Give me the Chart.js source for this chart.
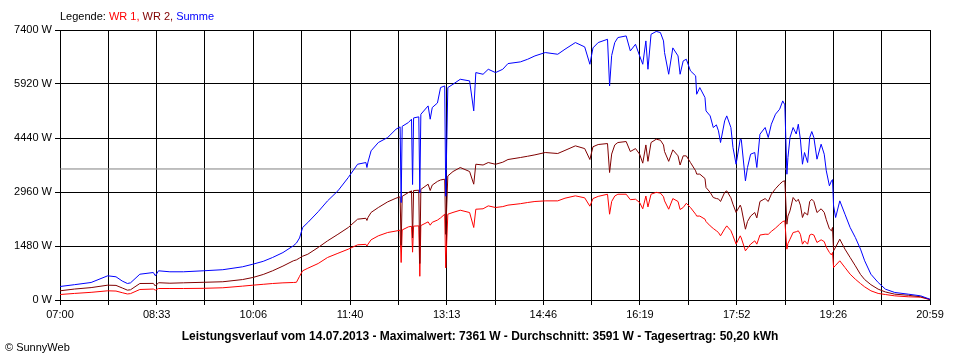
<!DOCTYPE html>
<html>
<head>
<meta charset="utf-8">
<script src="https://cdn.jsdelivr.net/npm/chart.js@4"></script>
<style>
  body { margin: 0; background: #fff; }
  canvas { display: block; }
</style>
</head>
<body>
<canvas id="leistung" width="960" height="360"></canvas>
<script>
// minutes after 07:00
var times = [
  0,14,30,46,54,60,65,68,77,90,
  92,95,106,119,138,157,176,186,196,205,
  215,225,228,231,234,239,249,258,268,278,
  287,295,296,297,300,307,316,324,328,329,
  330,336,339,340,341,346,347,348,355,357,
  359,364,367,371,372,374,379,386,395,399,
  401,408,413,420,427,432,444,451,458,468,
  480,487,497,506,511,514,519,528,530,532,
  535,538,546,550,555,559,562,565,567,570,
  575,579,582,583,587,591,596,598,601,604,
  608,613,614,617,622,623,627,630,633,635,
  637,641,643,647,649,652,656,657,661,663,
  666,670,672,675,680,683,686,690,694,697,
  699,701,702,704,707,710,712,714,716,718,
  721,723,725,727,730,734,737,739,742,744,
  745,746,748,752,757,762,767,772,776,782,
  789,796,805,818,830,839
];

var summe = [
  370,420,480,663,636,520,452,470,707,753,
  663,800,773,773,800,830,910,981,1060,1165,
  1300,1485,1560,1700,1987,2124,2420,2717,2991,3357,
  3721,3768,3631,3780,4088,4316,4453,4680,4745,2670,
  4760,4864,4955,3165,4990,5020,2937,5090,5320,4955,
  5275,5400,5822,5868,2844,5822,5913,6050,6005,5183,
  6233,6187,6324,6233,6324,6480,6526,6598,6690,6782,
  6735,6873,7056,6937,6461,6910,7056,7146,5868,6700,
  7056,7193,7238,6827,7009,6690,6461,7101,6324,7283,
  7361,7330,7101,6782,6187,6910,6690,6187,6553,6598,
  6280,6143,5639,5822,5549,5183,5046,4727,4800,4636,
  4316,4910,5046,4727,4179,3721,4407,4400,3266,3631,
  3996,4042,3631,4544,4727,4453,4818,5092,5229,5457,
  5350,3447,3905,4453,4727,4550,4818,4407,3721,4042,
  3768,4453,4617,4453,3859,4270,3996,3540,3129,3266,
  3300,2580,2261,2717,2351,1987,1713,1393,1074,707,
  480,297,206,160,114,20
];

var wr2 = [
  252,300,340,406,400,330,270,280,452,455,
  383,474,460,471,485,500,560,617,700,800,
  930,1074,1100,1150,1200,1255,1440,1621,1800,1987,
  2215,2240,2180,2261,2400,2535,2690,2790,2828,1500,
  2840,2946,2990,1700,3000,3009,1000,3030,3174,3000,
  3150,3250,3290,3311,1800,3400,3521,3631,3521,3174,
  3721,3700,3768,3720,3777,3850,3905,3940,3978,4042,
  4015,4100,4225,4150,3850,4200,4261,4288,3494,4000,
  4250,4316,4343,4069,4150,3996,3750,4250,3800,4316,
  4407,4380,4250,4069,3800,4115,3951,3700,3951,3950,
  3768,3540,3450,3450,3330,3083,2950,2809,2780,2770,
  2700,2950,2991,2800,2625,2400,2600,2530,1940,2150,
  2300,2397,2250,2700,2780,2700,2900,3050,3174,3250,
  3266,2077,2300,2444,2809,2700,2760,2600,2261,2400,
  2330,2700,2762,2700,2397,2500,2400,2200,1950,1896,
  1987,1348,1450,1667,1393,1165,937,700,560,420,
  297,220,160,130,88,15
];

var wr1 = [
  150,180,210,252,245,200,165,175,288,300,
  270,315,315,315,320,335,380,406,430,452,
  470,480,485,649,800,871,1000,1165,1280,1393,
  1512,1525,1480,1530,1650,1759,1850,1890,1913,1027,
  1920,2005,2020,1310,2025,2032,650,2040,2142,2050,
  2130,2190,2250,2351,880,2351,2400,2461,2397,1987,
  2488,2500,2580,2535,2560,2600,2640,2672,2700,2717,
  2717,2790,2855,2800,2571,2780,2840,2899,2351,2700,
  2850,2899,2899,2750,2762,2672,2500,2850,2550,2900,
  2950,2930,2830,2717,2488,2780,2700,2480,2535,2650,
  2535,2351,2300,2300,2215,2150,2032,1960,1896,1850,
  1759,1950,2032,1900,1759,1530,1759,1700,1348,1420,
  1530,1621,1530,1780,1804,1800,1880,1970,2077,2150,
  2169,1393,1550,1667,1850,1870,1896,1800,1530,1621,
  1530,1780,1804,1780,1576,1650,1600,1450,1302,1233,
  1302,890,950,1074,890,707,570,450,360,252,
  180,150,114,88,77,10
];

var durchschnitt = 3591;   // gray average line

// x grid every 46.6 min, label on every second line
var tickMinutes = [0,46.6,93.2,139.8,186.4,233.1,279.7,326.3,372.9,419.5,466.1,512.7,559.3,605.9,652.6,699.2,745.8,792.4,839];
var tickLabels  = ['07:00','','08:33','','10:06','','11:40','','13:13','','14:46','','16:19','','17:52','','19:26','','20:59'];
var yTicks = [0,1480,2960,4440,5920,7400];

var legendParts = [['Legende: ', '#000000'], ['WR 1, ', '#ff0000'], ['WR 2, ', '#800000'], ['Summe', '#0000ff']];
var titleText = 'Leistungsverlauf vom 14.07.2013 - Maximalwert: 7361 W - Durchschnitt: 3591 W - Tagesertrag: 50,20 kWh';
var creditText = '\u00A9 SunnyWeb';

function points(values) {
    return values.map(function (v, i) { return { x: times[i], y: v }; });
}

// texts around the plot
var textPlugin = {
    id: 'texte',
    afterDraw: function (chart) {
        var ctx = chart.ctx;
        ctx.save();
        ctx.textBaseline = 'middle';
        ctx.font = '11px Arial, "Liberation Sans", sans-serif';
        var x = 60;
        legendParts.forEach(function (p) {
            ctx.fillStyle = p[1];
            ctx.fillText(p[0], x, 17);
            x += ctx.measureText(p[0]).width;
        });
        ctx.fillStyle = '#000';
        ctx.fillText(creditText, 5, 348);
        ctx.font = 'bold 12px Arial, "Liberation Sans", sans-serif';
        ctx.textAlign = 'center';
        ctx.fillText(titleText, 480, 337);
        ctx.restore();
    }
};

Chart.defaults.font.family = 'Arial, "Liberation Sans", sans-serif';
Chart.defaults.font.size = 11;
Chart.defaults.color = '#000';

new Chart(document.getElementById('leistung'), {
    type: 'line',
    data: {
        datasets: [
            { label: 'Summe', data: points(summe), borderColor: '#0000ff' },
            { label: 'WR 2', data: points(wr2), borderColor: '#800000' },
            { label: 'WR 1', data: points(wr1), borderColor: '#ff0000' },
            { label: 'Durchschnitt', data: [{ x: 0, y: durchschnitt }, { x: 839, y: durchschnitt }], borderColor: '#808080' }
        ]
    },
    options: {
        responsive: false,
        animation: false,
        events: [],
        layout: { padding: { top: 30, right: 30, left: 0, bottom: 0 } },
        elements: {
            point: { radius: 0 },
            line: { borderWidth: 1, tension: 0 }
        },
        plugins: {
            legend: { display: false },
            tooltip: { enabled: false }
        },
        scales: {
            x: {
                type: 'linear',
                min: 0,
                max: 839,
                afterBuildTicks: function (s) { s.ticks = tickMinutes.map(function (v) { return { value: v }; }); },
                afterFit: function (s) { s.height = 60; },
                grid: { color: '#000', tickLength: 5, lineWidth: 1 },
                border: { color: '#000' },
                ticks: {
                    autoSkip: false,
                    maxRotation: 0,
                    padding: 3,
                    callback: function (v, i) { return tickLabels[i]; }
                }
            },
            y: {
                min: 0,
                max: 7400,
                afterBuildTicks: function (s) { s.ticks = yTicks.map(function (v) { return { value: v }; }); },
                afterFit: function (s) { s.width = 60; },
                grid: { color: '#000', tickLength: 5, lineWidth: 1 },
                border: { color: '#000' },
                ticks: {
                    padding: 3,
                    callback: function (v) { return v + ' W'; }
                }
            }
        }
    },
    plugins: [textPlugin]
});
</script>
</body>
</html>
